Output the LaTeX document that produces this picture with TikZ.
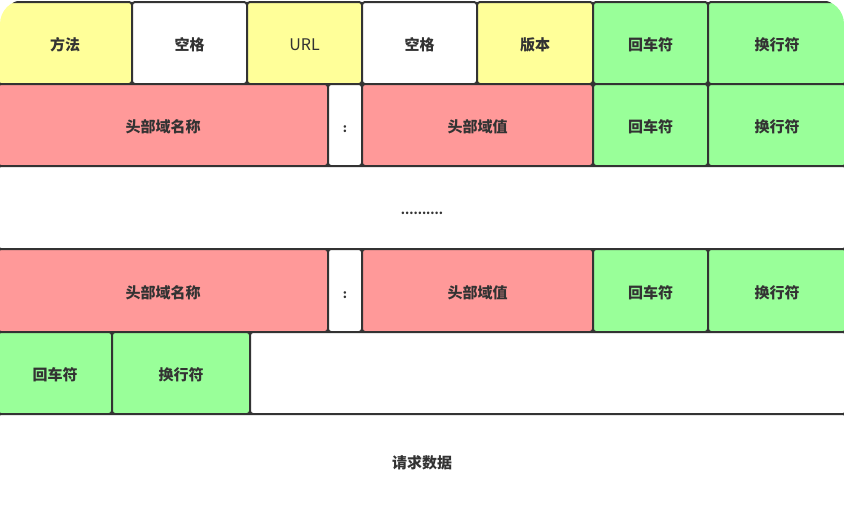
\documentclass[tikz,border=0pt]{standalone}
\usepackage{fontspec}
\setmainfont{Noto Sans CJK SC}
\definecolor{cellyellow}{HTML}{FFFF99}
\definecolor{cellred}{HTML}{FF9999}
\definecolor{cellgreen}{HTML}{99FF99}
\definecolor{cellline}{HTML}{333333}
\definecolor{celltext}{HTML}{333333}

\begin{document}
\begin{tikzpicture}[x=1pt,y=-1pt,
    cell/.style={draw=cellline,line width=2pt,rounded corners=3pt,inner sep=0pt,
      text height=17pt,text depth=2pt,
      text=celltext,font=\bfseries\fontsize{15}{15}\selectfont},
    rowa/.style={cell,minimum height=82pt},
    rowb/.style={cell,minimum height=83pt}]
        \useasboundingbox (0,0) rectangle (844,504);
        \fill[white] (0,0) rectangle (844,504);
        \clip[rounded corners=24pt] (0,0) rectangle (844,504);
        % request line
        \draw (65,43) node[rowa,fill=cellyellow,minimum width=134pt] (method){方法};
        \draw (189.5,43) node[rowa,fill=white,minimum width=115pt] (space_a){空格};
        \draw (304.5,43) node[rowa,fill=cellyellow,minimum width=115pt,
          font=\fontsize{16}{16}\selectfont] (url){URL};
        \draw (419.5,43) node[rowa,fill=white,minimum width=115pt] (space_b){空格};
        \draw (535,43) node[rowa,fill=cellyellow,minimum width=116pt] (version){版本};
        \draw (650.5,43) node[rowa,fill=cellgreen,minimum width=115pt] (cr_1){回车符};
        \draw (777,43) node[rowa,fill=cellgreen,minimum width=138pt] (lf_1){换行符};
        % header line 1
        \draw (163,125) node[rowa,fill=cellred,minimum width=330pt] (hname_1){头部域名称};
        \draw (345,125) node[rowa,fill=white,minimum width=34pt,
          font=\bfseries\fontsize{12}{12}\selectfont] (colon_1){:};
        \draw (477.5,125) node[rowa,fill=cellred,minimum width=231pt] (hval_1){头部域值};
        \draw (650.5,125) node[rowa,fill=cellgreen,minimum width=115pt] (cr_2){回车符};
        \draw (777,125) node[rowa,fill=cellgreen,minimum width=138pt] (lf_2){换行符};
        % more headers
        \draw (422,207.5) node[rowb,fill=white,minimum width=848pt,text depth=4pt,
          font=\bfseries\fontsize{12}{12}\selectfont] (more){..........};
        % header line n
        \draw (163,290.5) node[rowb,fill=cellred,minimum width=330pt] (hname_n){头部域名称};
        \draw (345,290.5) node[rowb,fill=white,minimum width=34pt,
          font=\bfseries\fontsize{12}{12}\selectfont] (colon_n){:};
        \draw (477.5,290.5) node[rowb,fill=cellred,minimum width=231pt] (hval_n){头部域值};
        \draw (650.5,290.5) node[rowb,fill=cellgreen,minimum width=115pt] (cr_3){回车符};
        \draw (777,290.5) node[rowb,fill=cellgreen,minimum width=138pt] (lf_3){换行符};
        % empty line
        \draw (55,373) node[rowa,fill=cellgreen,minimum width=114pt] (cr_4){回车符};
        \draw (181,373) node[rowa,fill=cellgreen,minimum width=138pt] (lf_4){换行符};
        \draw (548,373) node[rowa,fill=white,minimum width=596pt] (blank){};
        % body
        \draw (422,461) node[cell,fill=white,minimum width=848pt,minimum height=94pt] (body){请求数据};
      \end{tikzpicture}
\end{document}
